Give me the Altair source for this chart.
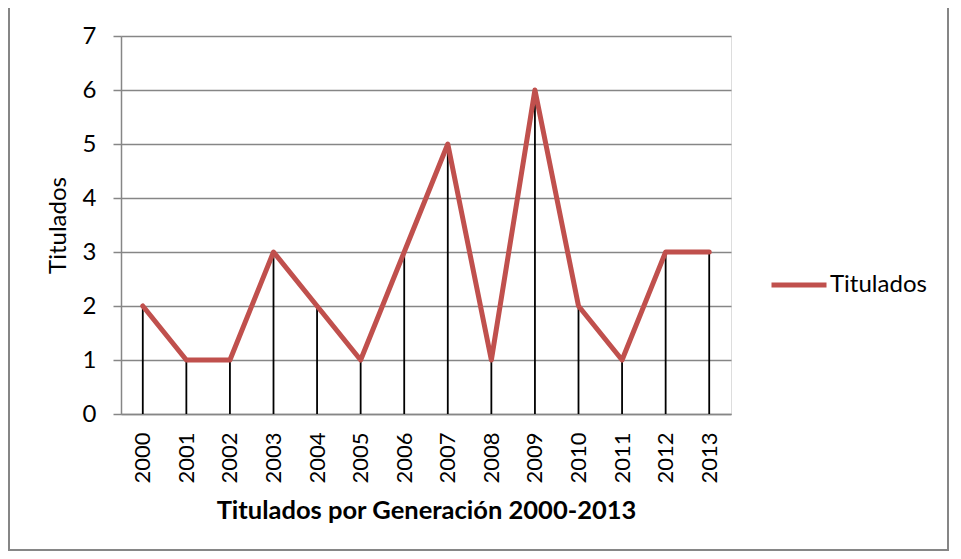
import altair as alt
import pandas as pd

years = ["2000", "2001", "2002", "2003", "2004", "2005", "2006",
         "2007", "2008", "2009", "2010", "2011", "2012", "2013"]
titulados = [2, 1, 1, 3, 2, 1, 3, 5, 1, 6, 2, 1, 3, 3]
series_name = "Titulados"
y_ticks = [0, 1, 2, 3, 4, 5, 6, 7]

df = pd.DataFrame({"year": years, "value": titulados, "serie": [series_name] * len(years)})

FONT = "Lato"
FS = 24
RED = "#C0504D"
GREY = "#868686"

x_enc = alt.X("year:O", sort=years,
              scale=alt.Scale(type="point", padding=0.5),
              axis=alt.Axis(title="Titulados por Generación 2000-2013", labelAngle=270,
                            labelFontSize=22, titleFontSize=25.5, titleFontWeight="bold",
                            ticks=False, tickSize=0, domainColor=GREY, domainWidth=1.5,
                            labelColor="black", titleColor="black", labelPadding=18,
                            titlePadding=15, labelBaseline="middle", labelAlign="right",
                            grid=False))

y_scale = alt.Scale(domain=[0, 7], nice=False)
y_axis = alt.Axis(title="Titulados", values=y_ticks, format="d", labelFontSize=FS,
                  titleFontSize=FS, titleFontWeight="normal", tickSize=8, tickColor=GREY,
                  tickWidth=1.5, domainColor=GREY, domainWidth=1.5, gridColor=GREY,
                  gridWidth=1.3, labelColor="black", titleColor="black", labelPadding=17,
                  titlePadding=12)

base = alt.Chart(df)

drops = base.mark_rule(color="black", strokeWidth=1.8).encode(
    x=x_enc,
    y=alt.Y("value:Q", scale=y_scale, axis=y_axis),
    y2=alt.datum(0),
)

line = base.mark_line(strokeWidth=5, strokeCap="round", strokeJoin="round").encode(
    x=alt.X("year:O", sort=years),
    y=alt.Y("value:Q"),
    color=alt.Color("serie:N", scale=alt.Scale(domain=[series_name], range=[RED]),
                    legend=alt.Legend(title=None, orient="none", legendX=648, legendY=219,
                                      symbolType="stroke", symbolSize=3025,
                                      symbolStrokeWidth=5, labelFontSize=FS,
                                      labelColor="black", labelOffset=1, padding=0,
                                      labelFont=FONT)),
)

border = alt.Chart(pd.DataFrame({"a": [0]})).mark_rect(
    fill=None, stroke=GREY, strokeWidth=2
).encode(
    x=alt.value(-112), x2=alt.value(827), y=alt.value(-29), y2=alt.value(514)
)

chart = alt.layer(border, drops, line).properties(
    width=610, height=378,
    autosize=alt.AutoSizeParams(type="none"),
    padding={"left": 113, "top": 28, "right": 222, "bottom": 137},
).configure_view(stroke=None).configure(
    font=FONT, background="white"
).configure_axis(labelFont=FONT, titleFont=FONT)

chart.save("out.html", embed_options={"renderer": "svg", "actions": False})
